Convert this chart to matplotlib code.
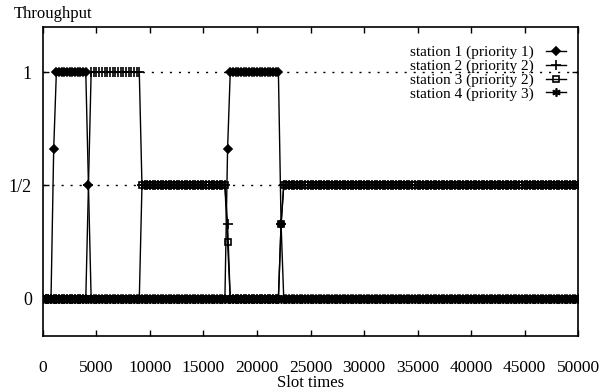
import numpy as np
import matplotlib
matplotlib.use("Agg")
import matplotlib.pyplot as plt

plt.rcParams['font.family'] = ['Liberation Serif', 'DejaVu Serif']

# sample grid of the simulation (slot times)
slot_step = 250
n_samples = 201
slots = np.arange(n_samples) * slot_step

# throughput per station, run-length coded: values and number of samples
s1_vals = [0, 0.66, 1, 0.5, 0, 0.66, 1, 0.33, 0]
s1_runs = [4, 1, 12, 1, 51, 1, 19, 1, 111]
s2_vals = [0, 0.5, 1, 0.5, 0.33, 0, 0.33, 0.5]
s2_runs = [17, 1, 19, 32, 1, 19, 1, 111]
s3_vals = [0, 0.5, 0.25, 0, 0.33, 0.5]
s3_runs = [37, 32, 1, 19, 1, 111]
s4_vals = [0]
s4_runs = [201]

labels = ["station 1 (priority 1)", "station 2 (priority 2)",
          "station 3 (priority 2)", "station 4 (priority 3)"]
markers = ["D", "+", "s", (6, 2, 0)]
msizes = [4.5, 7, 5, 6]

xticks = np.arange(0, 50001, 5000)
yticks = [0, 0.5, 1]
ytick_labels = ["0", "1/2", "1"]

fig = plt.figure(figsize=(6.08, 3.92), dpi=100)
ax = fig.add_axes([0.0707, 0.1429, 0.8800, 0.7881])

# gnuplot style grid on y ticks
for y in yticks:
    ax.axhline(y, color="black", lw=1.0, ls=(0, (1.5, 5)), zorder=0)

series = [(s1_vals, s1_runs), (s2_vals, s2_runs), (s3_vals, s3_runs), (s4_vals, s4_runs)]
for i, (vals, runs) in enumerate(series):
    thr = np.repeat(vals, runs)
    mfc = "black" if i == 0 else "none"
    ax.plot(slots, thr, color="black", lw=1.0, marker=markers[i], ms=msizes[i],
            mfc=mfc, mec="black", mew=1.2, label=labels[i])

ax.set_xlim(0, 50000)
ax.set_ylim(-0.165, 1.2)
ax.set_xticks(xticks)
ax.set_xticklabels([str(x) for x in xticks], fontsize=12.5)
ax.set_yticks(yticks)
ax.set_yticklabels(ytick_labels, fontsize=13)
ax.tick_params(direction="in", top=True, right=True, length=4, width=1)
ax.tick_params(axis="y", pad=8)
ax.tick_params(axis="x", pad=17)
for sp in ax.spines.values():
    sp.set_linewidth(1.2)

fig.text(0.51, 0.022, "Slot times", fontsize=12, va="center", ha="center")
fig.text(0.022, 0.965, "Throughput", fontsize=12, va="center", ha="left")

leg = ax.legend(loc="upper right", bbox_to_anchor=(0.997, 0.975), frameon=False,
                markerfirst=False, fontsize=11, handlelength=1.3,
                labelspacing=0.0, handletextpad=0.8, borderpad=0.2)

fig.savefig("out.png", dpi=100)
